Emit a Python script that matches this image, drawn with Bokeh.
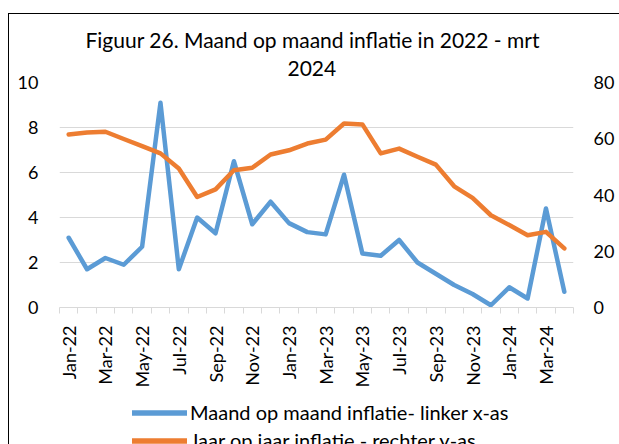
import math
from bokeh.plotting import figure
from bokeh.layouts import column
from bokeh.models import Range1d, LinearAxis, FixedTicker, Legend, LegendItem, Title
from bokeh.embed import file_html
from bokeh.resources import INLINE

months = ["Jan-22", "Feb-22", "Mar-22", "Apr-22", "May-22", "Jun-22", "Jul-22",
          "Aug-22", "Sep-22", "Oct-22", "Nov-22", "Dec-22", "Jan-23", "Feb-23",
          "Mar-23", "Apr-23", "May-23", "Jun-23", "Jul-23", "Aug-23", "Sep-23",
          "Oct-23", "Nov-23", "Dec-23", "Jan-24", "Feb-24", "Mar-24", "Apr-24"]
mom = [3.1, 1.7, 2.2, 1.9, 2.7, 9.1, 1.7, 4.0, 3.3, 6.5, 3.7, 4.7, 3.75, 3.35,
       3.25, 5.9, 2.4, 2.3, 3.0, 2.0, 1.5, 1.0, 0.6, 0.1, 0.9, 0.4, 4.4, 0.7]
yoy = [61.5, 62.2, 62.5, 59.9, 57.4, 54.8, 49.4, 39.3, 42.0, 48.8, 49.7, 54.4,
       55.9, 58.3, 59.7, 65.4, 65.1, 54.8, 56.5, 53.6, 50.8, 43.1, 39.0, 32.8,
       29.3, 25.7, 26.9, 21.0]
left_ticks = [0, 2, 4, 6, 8, 10]
right_ticks = [0, 20, 40, 60, 80]
title_line1 = "Figuur 26. Maand op maand inflatie in 2022 - mrt"
title_line2 = "2024"
label_mom = "Maand op maand inflatie- linker x-as"
label_yoy = "Jaar op jaar inflatie - rechter y-as"

FONT = "Lato"
FS = "18px"
FS_BIG = "21px"
FS_LEG = "20px"
GRID = "#d9d9d9"
BLUE = "#5b9bd5"
ORANGE = "#ed7d31"

n = len(months)
xs = list(range(n))

# ---- main chart ----
p = figure(width=610, height=381, output_backend="svg", toolbar_location=None,
           x_range=Range1d(-0.5, n - 0.5), y_range=Range1d(0, 10),
           min_border_left=50, min_border_right=46, min_border_top=68,
           min_border_bottom=88)
p.extra_y_ranges = {"right": Range1d(0, 80)}
p.add_layout(LinearAxis(y_range_name="right", ticker=FixedTicker(ticks=right_ticks)), "right")

p.outline_line_color = None
p.background_fill_color = "white"
p.border_fill_color = "white"

p.title.text = title_line1
p.title.align = "left"
p.title.offset = 26
p.title.text_font = FONT
p.title.text_font_size = FS_BIG
p.title.text_font_style = "normal"
p.title.text_color = "#000000"
p.title.standoff = 0
t2 = Title(text=title_line2, align="left", offset=228, text_font=FONT,
           text_font_size=FS_BIG, text_font_style="normal", text_color="#000000",
           standoff=14)
p.add_layout(t2, "above")

for ax in p.axis:
    ax.major_label_text_font = FONT
    ax.major_label_text_font_size = FS
    ax.major_label_text_color = "#000000"

for ax in p.yaxis:
    ax.axis_line_color = None
    ax.major_tick_line_color = None
    ax.minor_tick_line_color = None
    ax.major_tick_out = 0
    ax.major_tick_in = 0
p.yaxis[0].ticker = FixedTicker(ticks=left_ticks)
p.yaxis[0].major_label_standoff = 21
p.yaxis[1].major_label_standoff = 20

xa = p.xaxis[0]
xa.ticker = FixedTicker(ticks=xs[::2], minor_ticks=[i - 0.5 for i in range(n + 1)])
xa.major_label_overrides = {i: months[i] for i in xs[::2]}
xa.major_label_orientation = math.pi / 2
xa.major_tick_out = 0
xa.major_tick_in = 0
xa.minor_tick_out = 6
xa.minor_tick_in = 0
xa.minor_tick_line_color = GRID
xa.axis_line_color = GRID
xa.major_label_standoff = 12

p.xgrid.visible = False
p.ygrid.grid_line_color = GRID
p.ygrid.ticker = FixedTicker(ticks=left_ticks)

p.line(xs, mom, color=BLUE, line_width=4.5, line_join="round", line_cap="round")
p.line(xs, yoy, color=ORANGE, line_width=4.5, line_join="round", line_cap="round",
       y_range_name="right")

# ---- legend strip below (series lines lie outside its view; only the legend shows) ----
q = figure(width=610, height=49, output_backend="svg", toolbar_location=None,
           x_range=Range1d(1000, 1001), y_range=Range1d(1000, 1001),
           x_axis_location=None, y_axis_location=None,
           min_border_left=0, min_border_right=0, min_border_top=0, min_border_bottom=0)
q.grid.visible = False
q.outline_line_color = None
q.background_fill_color = "white"
q.border_fill_color = "white"
l1 = q.line(xs, mom, color=BLUE, line_width=5.5, line_cap="round")
l2 = q.line(xs, yoy, color=ORANGE, line_width=5.5, line_cap="round")
legend = Legend(items=[LegendItem(label=label_mom, renderers=[l1]),
                       LegendItem(label=label_yoy, renderers=[l2])],
                location=(73, -8), orientation="vertical", padding=0, margin=0,
                spacing=4, glyph_width=55, glyph_height=21, label_height=21,
                label_standoff=3, border_line_color=None, background_fill_alpha=0,
                label_text_font=FONT, label_text_font_size=FS_LEG,
                label_text_color="#000000")
q.add_layout(legend)

layout = column(p, q, spacing=0, margin=(13, 0, 0, 8),
                styles={"border-left": "1px solid black", "border-top": "1px solid black"})

open("out.html", "w").write(file_html(layout, INLINE))
